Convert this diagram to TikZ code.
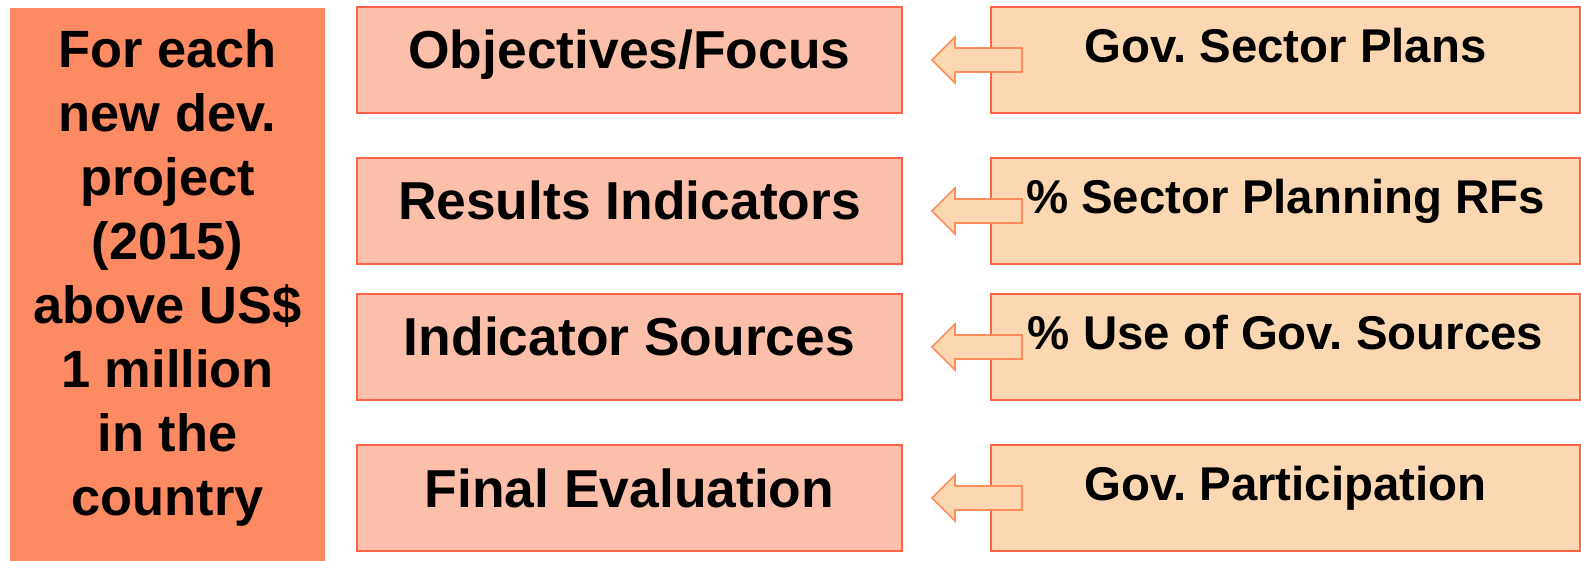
\documentclass[tikz,border=0pt]{standalone}
\usepackage{fontspec}
\setmainfont{Liberation Sans}
\usetikzlibrary{calc}
\frenchspacing
\definecolor{projfill}{HTML}{FC8A62}
\definecolor{itemfill}{HTML}{FCC0AA}
\definecolor{govfill}{HTML}{FCD8B2}
\definecolor{boxline}{HTML}{FF6347}
\definecolor{arwline}{HTML}{FF8C5A}
% hollow block arrow: from gov. box #1 to item box #2
\newcommand{\blkarw}[2]{\draw[arwline,fill=govfill,line width=.8pt]
  ($(#2.east)+(29,0)$) -- ++(23,-23) -- ++(0,11) -- ($(#1.west)+(32,-12)$)
  -- ++(0,24) -- ($(#2.east)+(52,12)$) -- ++(0,11) -- cycle;}

\begin{document}
\begin{tikzpicture}[x=.5pt,y=-.5pt,
  projbox/.style={fill=projfill,minimum width=157.5pt,minimum height=276.5pt,
    inner sep=0pt,align=center,text depth=12pt,
    font=\fontsize{26.2}{32}\selectfont\bfseries},
  itembox/.style={draw=boxline,fill=itemfill,line width=1pt,minimum width=272.5pt,
    minimum height=53pt,inner sep=0pt,text height=20pt,text depth=11pt,
    font=\fontsize{26.7}{30}\selectfont\bfseries},
  govbox/.style={draw=boxline,fill=govfill,line width=1pt,minimum width=294.5pt,
    minimum height=53pt,inner sep=0pt,text height=18pt,text depth=15pt,
    font=\fontsize{23.7}{28}\selectfont\bfseries}]
\useasboundingbox (0,0) rectangle (1581,561);
%project box
\node[projbox] (proj) at (167.5,284.5) {For each\\new dev.\\project\\(2015)\\above US\$\\1 million\\in the\\country};
%what is looked at
\node[itembox] (obj) at (629.5,60)  {Objectives/Focus};
\node[itembox] (res) at (629.5,211) {Results Indicators};
\node[itembox] (src) at (629.5,347) {Indicator Sources};
\node[itembox] (eva) at (629.5,498) {Final Evaluation};
%government side
\node[govbox] (plan) at (1285.5,60)  {Gov. Sector Plans};
\node[govbox] (rfs)  at (1285.5,211) {\% Sector Planning RFs};
\node[govbox] (use)  at (1285.5,347) {\% Use of Gov. Sources};
\node[govbox] (part) at (1285.5,498) {Gov. Participation};
%arrows
\blkarw{plan}{obj}
\blkarw{rfs}{res}
\blkarw{use}{src}
\blkarw{part}{eva}
\end{tikzpicture}
\end{document}
